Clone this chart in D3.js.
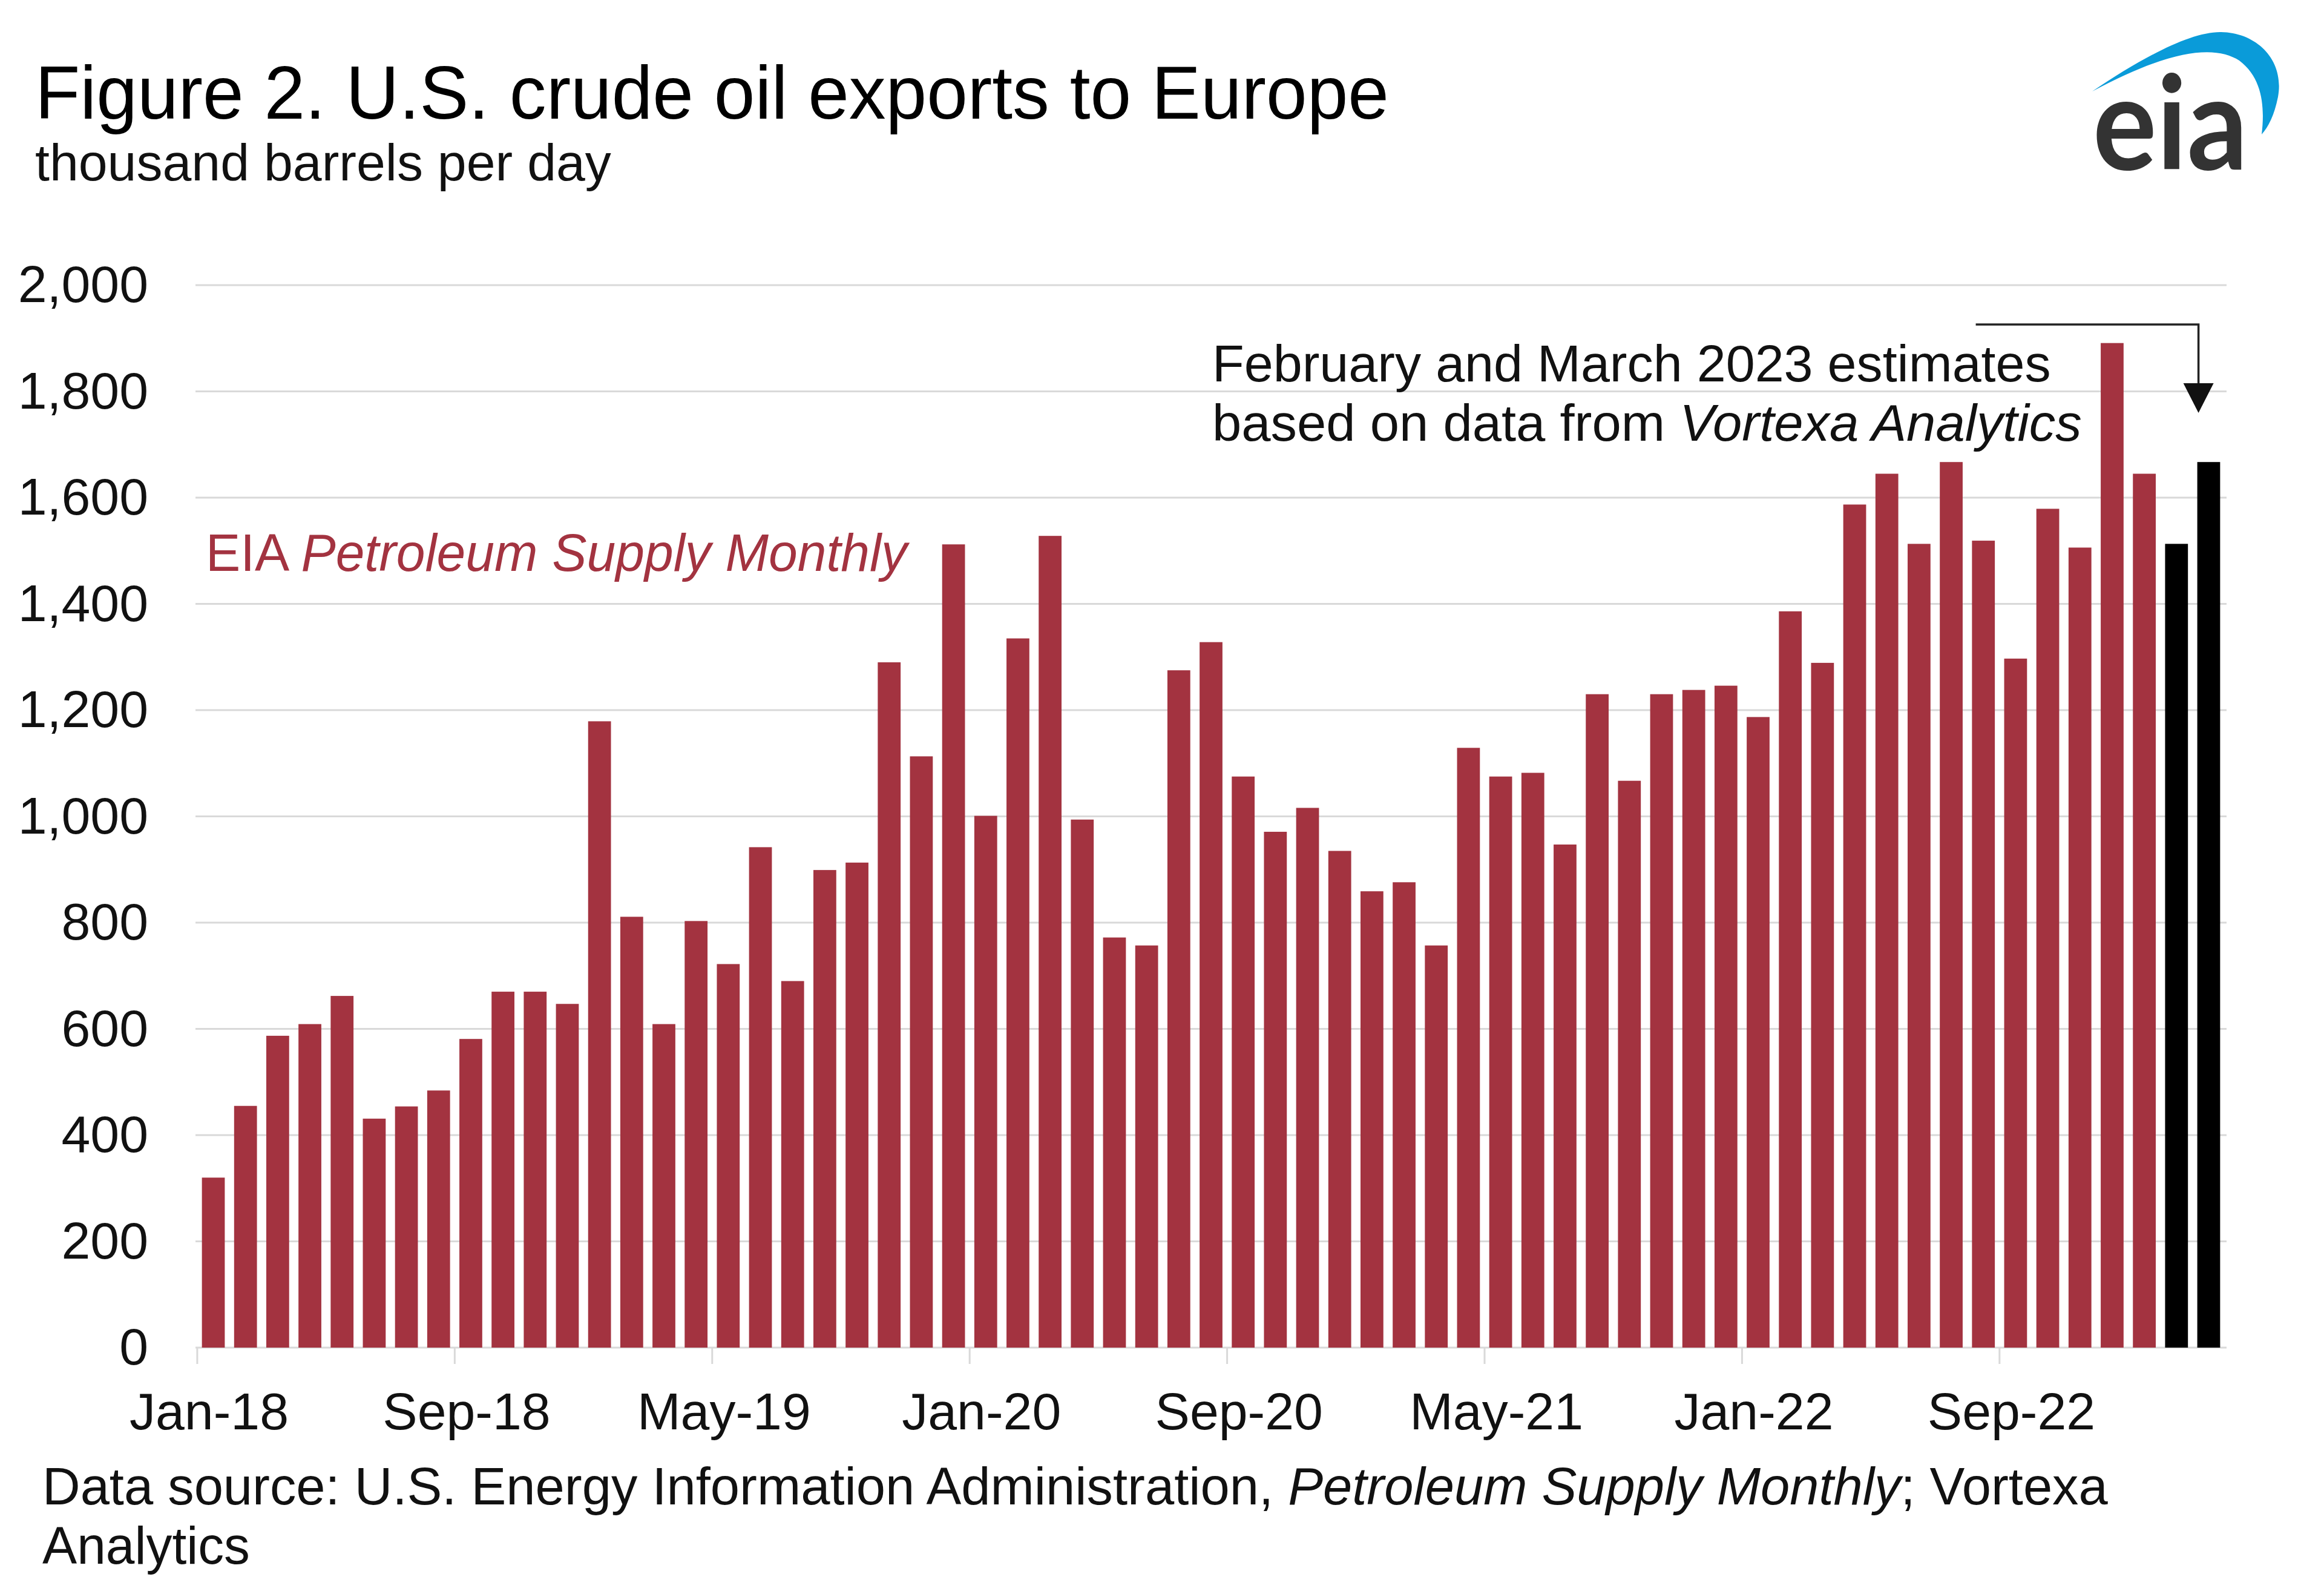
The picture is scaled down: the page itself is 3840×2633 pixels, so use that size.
<!DOCTYPE html>
<html><head><meta charset="utf-8">
<script src="https://cdn.jsdelivr.net/npm/d3@7"></script>
<style>html,body{margin:0;padding:0;background:#fff}</style>
</head><body>
<svg id="chart" width="3840" height="2633"></svg>
<script>
// ---------- data ----------
const categories = [
  "Jan-18","Feb-18","Mar-18","Apr-18","May-18","Jun-18","Jul-18","Aug-18","Sep-18","Oct-18","Nov-18","Dec-18",
  "Jan-19","Feb-19","Mar-19","Apr-19","May-19","Jun-19","Jul-19","Aug-19","Sep-19","Oct-19","Nov-19","Dec-19",
  "Jan-20","Feb-20","Mar-20","Apr-20","May-20","Jun-20","Jul-20","Aug-20","Sep-20","Oct-20","Nov-20","Dec-20",
  "Jan-21","Feb-21","Mar-21","Apr-21","May-21","Jun-21","Jul-21","Aug-21","Sep-21","Oct-21","Nov-21","Dec-21",
  "Jan-22","Feb-22","Mar-22","Apr-22","May-22","Jun-22","Jul-22","Aug-22","Sep-22","Oct-22","Nov-22","Dec-22",
  "Jan-23","Feb-23","Mar-23"
];
// EIA Petroleum Supply Monthly, Jan-18 .. Jan-23
const psmValues = [
  320, 455, 587, 609, 662, 431, 454, 484, 581, 670, 670, 647,
  1179, 811, 609, 803, 722, 942, 690, 899, 913, 1290, 1113, 1512,
  1001, 1335, 1528, 994, 772, 757, 1275, 1328, 1075, 971, 1016, 935,
  859, 876, 757, 1129, 1075, 1082, 947, 1230, 1067, 1230, 1238, 1246,
  1187, 1386, 1289, 1587, 1645, 1513, 1667, 1519, 1297, 1579, 1506, 1891,
  1645
];
// Vortexa-based estimates, Feb-23 .. Mar-23
const estimateValues = [1513, 1667];
const xTickLabels = ["Jan-18","Sep-18","May-19","Jan-20","Sep-20","May-21","Jan-22","Sep-22"];
const yTickValues = [0, 200, 400, 600, 800, 1000, 1200, 1400, 1600, 1800, 2000];

// ---------- layout ----------
const FONT = "'Liberation Sans', Arial, sans-serif";
const RED = "#a33340";
const GRID = "#d9d9d9";
const plotL = 323, plotR = 3679, plotT = 471, plotB = 2226;

const svg = d3.select("#chart");
svg.append("rect").attr("width", 3840).attr("height", 2633).attr("fill", "#fff");

const rows = categories.map((c, i) => ({
  c, v: i < psmValues.length ? psmValues[i] : estimateValues[i - psmValues.length],
  est: i >= psmValues.length
}));

const x = d3.scaleBand().domain(categories).range([plotL, plotR]).paddingInner(0.29).paddingOuter(0.2);
const y = d3.scaleLinear().domain([0, 2000]).range([plotB, plotT]);

// helper: text stretched to a target width
function fitText(parent, px, py, target, build) {
  const t = parent.append("text").attr("font-family", FONT);
  build(t);
  const w = t.node().getComputedTextLength();
  t.attr("transform", `translate(${px},${py}) scale(${target / w},1)`);
  return t;
}

// gridlines
svg.append("g").selectAll("line").data(yTickValues).join("line")
  .attr("x1", plotL).attr("x2", plotR)
  .attr("y1", d => y(d)).attr("y2", d => y(d))
  .attr("stroke", GRID).attr("stroke-width", 3);

// y axis labels
const yAxis = svg.append("g").attr("transform", `translate(${plotL},0)`)
  .call(d3.axisLeft(y).tickValues(yTickValues).tickFormat(d3.format(",")).tickSize(0).tickPadding(78));
yAxis.select(".domain").remove();
yAxis.selectAll("text").attr("font-family", FONT).attr("font-size", 86).attr("fill", "#111");

// bars
svg.append("g").selectAll("rect").data(rows).join("rect")
  .attr("x", d => x(d.c)).attr("width", x.bandwidth())
  .attr("y", d => y(d.v)).attr("height", d => y(0) - y(d.v))
  .attr("fill", d => d.est ? "#000" : RED);

// x axis
const xAxis = svg.append("g").attr("transform", `translate(0,${plotB})`)
  .call(d3.axisBottom(x).tickValues(xTickLabels).tickSize(27));
xAxis.select(".domain").remove();
xAxis.selectAll(".tick line").attr("x1", -x.step() / 2).attr("x2", -x.step() / 2)
  .attr("stroke", GRID).attr("stroke-width", 3);
xAxis.selectAll("text").attr("font-family", FONT).attr("font-size", 86).attr("fill", "#111")
  .attr("x", -7).attr("y", 135).attr("dy", 0);

// title & subtitle
fitText(svg, 58, 196, 2237, t => t.attr("font-size", 124).attr("fill", "#000")
  .text("Figure 2. U.S. crude oil exports to Europe"));
fitText(svg, 58, 298, 952, t => t.attr("font-size", 86).attr("fill", "#111")
  .text("thousand  barrels  per  day"));

// series label
fitText(svg, 340, 943, 1159, t => {
  t.attr("font-size", 88).attr("fill", RED);
  t.append("tspan").text("EIA ");
  t.append("tspan").attr("font-style", "italic").text("Petroleum  Supply  Monthly");
});

// annotation
fitText(svg, 2003, 630, 1386, t => t.attr("font-size", 85).attr("fill", "#111")
  .text("February  and  March  2023  estimates"));
fitText(svg, 2003, 728, 1437, t => {
  t.attr("font-size", 85).attr("fill", "#111");
  t.append("tspan").text("based  on  data  from  ");
  t.append("tspan").attr("font-style", "italic").text("Vortexa  Analytics");
});
const arrowX = x(categories[62]) + 2;
const arrowTop = plotT + 65;
svg.append("path")
  .attr("d", `M${arrowX - 368},${arrowTop} H${arrowX} V${arrowTop + 100}`)
  .attr("fill", "none").attr("stroke", "#222").attr("stroke-width", 3.5);
svg.append("path")
  .attr("d", `M${arrowX - 25},${arrowTop + 97} L${arrowX + 25},${arrowTop + 97} L${arrowX},${arrowTop + 146} Z`)
  .attr("fill", "#111");

// source
fitText(svg, 70, 2485, 3413, t => {
  t.attr("font-size", 88).attr("fill", "#111");
  t.append("tspan").text("Data  source:  U.S.  Energy  Information  Administration,  ");
  t.append("tspan").attr("font-style", "italic").text("Petroleum  Supply  Monthly");
  t.append("tspan").text(";  Vortexa");
});
fitText(svg, 70, 2583, 343, t => t.attr("font-size", 88).attr("fill", "#111").text("Analytics"));

// eia logo
const logo = svg.append("g");
logo.append("path")
  .attr("d", "M3457,151 C3540,95 3620,52 3670,53 C3730,54 3775,100 3764,160 C3758,190 3748,210 3737,222 C3742,180 3740,130 3700,100 C3660,75 3590,80 3457,151 Z")
  .attr("fill", "#0a9bd9");
fitText(logo, 3458, 280, 256, t => t.attr("font-family", "Lato, 'Open Sans', sans-serif")
  .attr("font-weight", 700).attr("font-size", 215).attr("fill", "#333").text("eia"));
</script>
</body></html>
